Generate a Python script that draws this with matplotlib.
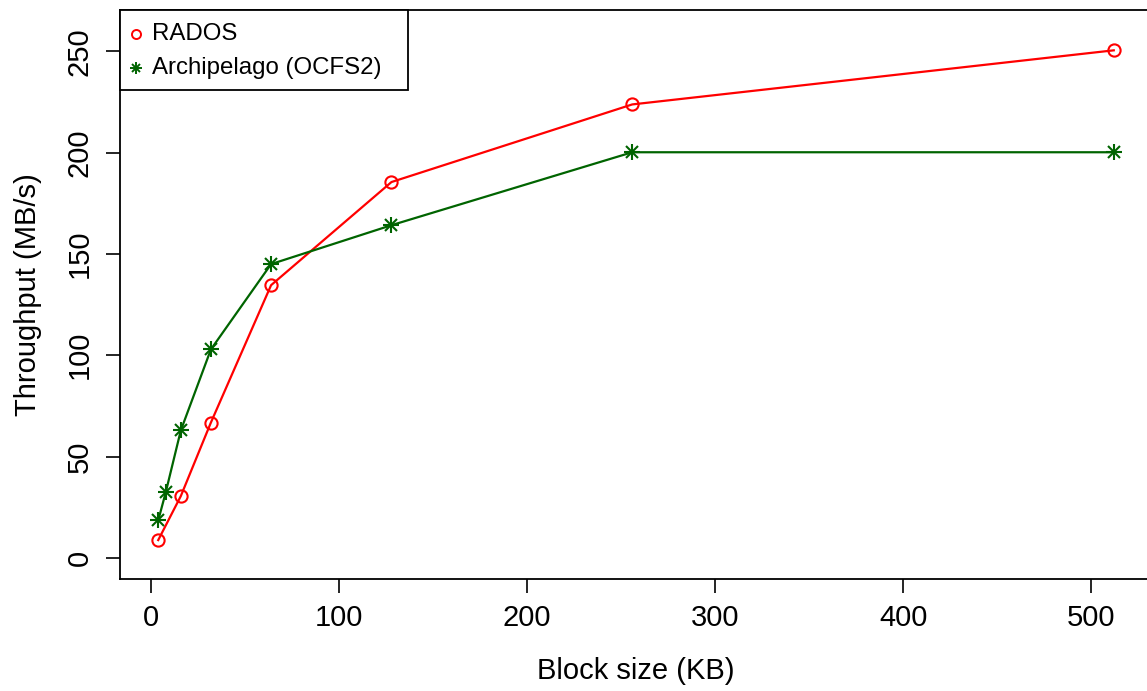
import matplotlib
matplotlib.use("Agg")
import matplotlib.pyplot as plt
from matplotlib.patches import Rectangle

# Data
rados_x = [4, 16, 32, 64, 128, 256, 512]
rados_y = [8.8, 30.5, 66.8, 134.6, 185.5, 223.8, 250.5]
arch_x = [4, 8, 16, 32, 64, 128, 256, 512]
arch_y = [18.5, 32.4, 62.9, 102.9, 145.0, 164.2, 200.2, 200.2]
xticks = [0, 100, 200, 300, 400, 500]
yticks = [0, 50, 100, 150, 200, 250]
series_names = ["RADOS", "Archipelago (OCFS2)"]
xlabel = "Block size (KB)"
ylabel = "Throughput (MB/s)"

plt.rcParams['font.family'] = ['Liberation Sans', 'DejaVu Sans']

W, H = 1147, 691
fig = plt.figure(figsize=(W / 100, H / 100), dpi=100)
L, R, T, B = 120, 1152, 10, 579
ax = fig.add_axes([L / W, 1 - B / H, (R - L) / W, (B - T) / H])

RED = "#FF0000"
GREEN = "#006400"

ax.plot(rados_x, rados_y, color=RED, lw=1.6, zorder=3)
ax.plot(rados_x, rados_y, ls='none', marker='o', ms=8.8, mfc='none', mec=RED, mew=1.5, zorder=4)
ax.plot(arch_x, arch_y, color=GREEN, lw=1.6, zorder=3)
ax.plot(arch_x, arch_y, ls='none', marker='+', ms=11.5, mec=GREEN, mew=1.5, zorder=4)
ax.plot(arch_x, arch_y, ls='none', marker='x', ms=8.3, mec=GREEN, mew=1.5, zorder=4)

x0, x1 = min(rados_x + arch_x), max(rados_x + arch_x)
ext = (x1 - x0) * 0.04
ax.set_xlim(x0 - ext, x1 + ext)
ax.set_ylim(0 - 260 * 0.04, 260 + 260 * 0.04)

ax.set_xticks(xticks)
ax.set_yticks(yticks)
ax.tick_params(axis='both', direction='out', length=10, width=1.2, labelsize=21, color='black')
ax.tick_params(axis='x', pad=8)
ax.tick_params(axis='y', pad=9)
for lab in ax.get_yticklabels():
    lab.set_rotation(90)
    lab.set_va('center')

for s in ax.spines.values():
    s.set_linewidth(1.3)
    s.set_color('black')

ax.set_xlabel(xlabel, fontsize=21, labelpad=18)
ax.set_ylabel(ylabel, fontsize=21, labelpad=17)

# Legend (R-style, topleft)
AW, AH = R - L, B - T
def fx(px):
    return (px - L) / AW
def fy(py):
    return (B - py) / AH

ax.add_patch(Rectangle((0, fy(90)), fx(408), fy(10) - fy(90), transform=ax.transAxes,
                       fill=True, facecolor='white', edgecolor='black', lw=1.3, zorder=10, clip_on=False))
row_y = [34, 68]
ax.plot([fx(136)], [fy(row_y[0])], transform=ax.transAxes, ls='none', marker='o', ms=6.5,
        mfc='none', mec=RED, mew=1.4, zorder=11, clip_on=False)
ax.plot([fx(136)], [fy(row_y[1])], transform=ax.transAxes, ls='none', marker='+', ms=8.5,
        mec=GREEN, mew=1.4, zorder=11, clip_on=False)
ax.plot([fx(136)], [fy(row_y[1])], transform=ax.transAxes, ls='none', marker='x', ms=6,
        mec=GREEN, mew=1.4, zorder=11, clip_on=False)
for name, ry in zip(series_names, row_y):
    ax.text(fx(152), fy(ry), name, transform=ax.transAxes, fontsize=17.3, va='center', ha='left', zorder=12)

fig.savefig("out.png", dpi=100)
